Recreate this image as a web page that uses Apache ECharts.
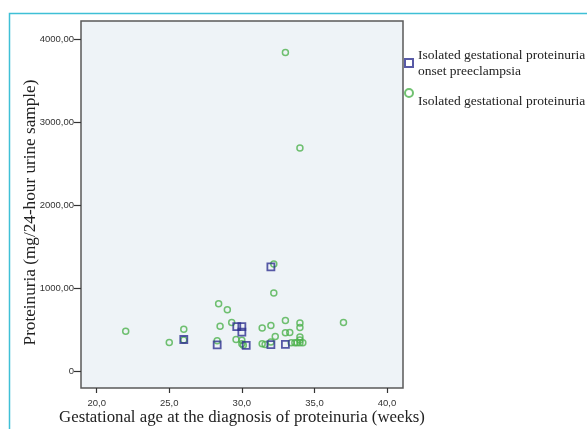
<!DOCTYPE html>
<html>
<head>
<meta charset="utf-8">
<script src="https://cdn.jsdelivr.net/npm/echarts@6/dist/echarts.min.js"></script>
<style>html,body{margin:0;padding:0;background:#fff}#c{width:587px;height:429px}</style>
</head>
<body>
<div id="c"></div>
<script>
// Isolated gestational proteinuria -> onset preeclampsia (blue squares)
const preeclampsiaWeeks = [26.0, 28.3, 29.65, 30.0, 30.0, 30.3, 32.0, 32.0, 33.0];
const preeclampsiaProt  = [380, 315, 535, 535, 470, 310, 1255, 318, 320];

// Isolated gestational proteinuria (green circles)
const isolatedWeeks = [22.0, 25.0, 26.0, 26.0, 28.4, 29.0, 28.5, 29.3, 28.3, 29.6, 30.0, 30.0, 30.1,
  31.4, 32.0, 31.4, 31.6, 32.3, 32.2, 32.2, 33.0, 33.0, 33.3, 33.4, 33.65, 33.8,
  34.0, 34.0, 34.0, 34.0, 34.0, 34.2, 37.0, 33.0, 34.0, 32.0];
const isolatedProt = [480, 345, 505, 375, 810, 740, 540, 585, 365, 380, 370, 330, 310,
  520, 550, 330, 320, 415, 1290, 940, 610, 460, 465, 340, 340, 340,
  580, 525, 410, 375, 340, 340, 585, 3840, 2690, 350];

const xTickValues = [20, 25, 30, 35, 40];
const xTickLabels = ["20,0", "25,0", "30,0", "35,0", "40,0"];
const yTickValues = [0, 1000, 2000, 3000, 4000];
const yTickLabels = ["0", "1000,00", "2000,00", "3000,00", "4000,00"];

const seriesNames = ["Isolated gestational proteinuria\nonset preeclampsia", "Isolated gestational proteinuria"];

const zip = (a, b) => a.map((v, i) => [v, b[i]]);

const chart = echarts.init(document.getElementById('c'), null, {renderer: 'canvas'});
chart.setOption({
  animation: false,
  backgroundColor: '#ffffff',
  graphic: [{
    type: 'rect', left: 7, top: 11, z: -1,
    shape: {width: 620, height: 440},
    style: {fill: 'none', stroke: '#3fc0d6', lineWidth: 1.5}
  }],
  grid: {
    left: 81, top: 21, right: 184, bottom: 41,
    outerBoundsMode: 'none', containLabel: false,
    show: true, backgroundColor: '#eef3f7', borderColor: '#5a5a5a', borderWidth: 1.5
  },
  legend: {
    orient: 'vertical', left: 399, top: 42,
    itemWidth: 8, itemHeight: 8, itemGap: -2,
    textStyle: {fontFamily: 'Liberation Serif', fontSize: 13.5, color: '#222', lineHeight: 16},
    formatter: name => (name === seriesNames[1] ? '\n' + name : name),
    data: seriesNames
  },
  xAxis: {
    type: 'value', min: 18.92, max: 41.1,
    splitLine: {show: false},
    axisLine: {show: false, onZero: false},
    axisTick: {show: true, length: 5, customValues: xTickValues, lineStyle: {color: '#333', width: 1.2}},
    axisLabel: {
      customValues: xTickValues, margin: 10,
      fontFamily: 'Liberation Sans', fontSize: 9.5, color: '#333',
      formatter: v => xTickLabels[xTickValues.indexOf(v)]
    },
    name: 'Gestational age at the diagnosis of proteinuria (weeks)',
    nameLocation: 'middle', nameGap: 21, nameMoveOverlap: false,
    nameTextStyle: {fontFamily: 'Liberation Serif', fontSize: 16.8, color: '#222'}
  },
  yAxis: {
    type: 'value', min: -205, max: 4221,
    splitLine: {show: false},
    axisLine: {show: false, onZero: false},
    axisTick: {show: true, length: 7, customValues: yTickValues, lineStyle: {color: '#333', width: 1.2}},
    axisLabel: {
      customValues: yTickValues, margin: 7,
      fontFamily: 'Liberation Sans', fontSize: 9.5, color: '#333',
      formatter: v => yTickLabels[yTickValues.indexOf(v)]
    },
    name: 'Proteinuria (mg/24-hour urine sample)',
    nameLocation: 'middle', nameGap: 42, nameMoveOverlap: false,
    nameTextStyle: {fontFamily: 'Liberation Serif', fontSize: 17.2, color: '#222', padding: [0, 16, 0, 0]}
  },
  series: [
    {
      name: seriesNames[0], type: 'scatter', symbol: 'rect', symbolSize: 7, z: 3,
      itemStyle: {color: 'rgba(255,255,255,0)', borderColor: '#2e3190', borderWidth: 1.8},
      data: zip(preeclampsiaWeeks, preeclampsiaProt)
    },
    {
      name: seriesNames[1], type: 'scatter', symbol: 'circle', symbolSize: 6, z: 2,
      itemStyle: {color: 'rgba(255,255,255,0)', borderColor: '#4db14d', borderWidth: 1.5},
      data: zip(isolatedWeeks, isolatedProt)
    }
  ]
});
</script>
</body>
</html>
